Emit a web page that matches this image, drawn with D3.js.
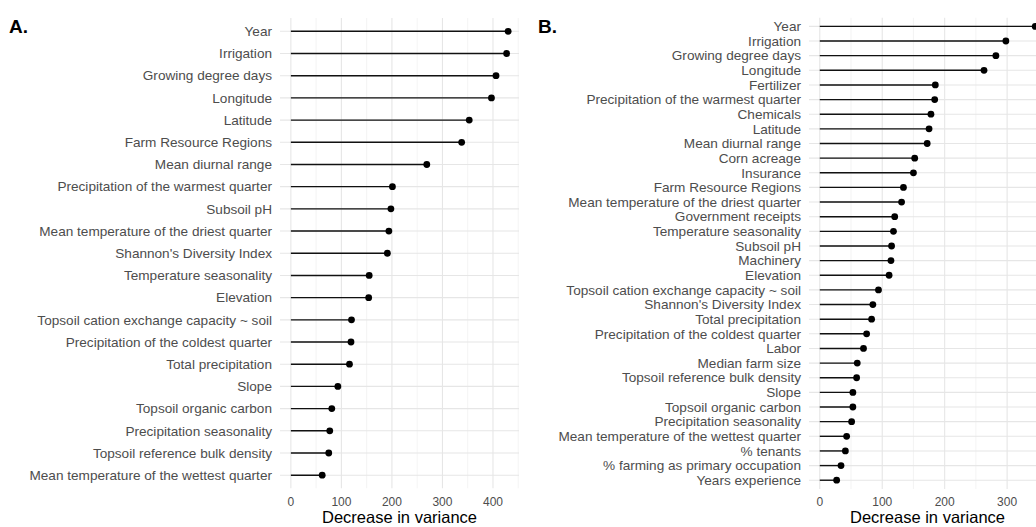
<!DOCTYPE html>
<html>
  <head>
    <meta charset="utf-8">
    <script src="https://d3js.org/d3.v7.min.js"></script>
    <title>Variable importance</title>
    <style>
      body { margin: 0; background: #fff; }
      svg { font-family: "Liberation Sans", Arial, sans-serif; }
    </style>
  </head>
  <body>
    <svg width="1036" height="527"></svg>
    <script>
      // Panel A: yield model variables (top to bottom)
      const varsA = ['Year', 'Irrigation', 'Growing degree days', 'Longitude', 'Latitude',
        'Farm Resource Regions', 'Mean diurnal range', 'Precipitation of the warmest quarter',
        'Subsoil pH', 'Mean temperature of the driest quarter', "Shannon's Diversity Index",
        'Temperature seasonality', 'Elevation', 'Topsoil cation exchange capacity ~ soil',
        'Precipitation of the coldest quarter', 'Total precipitation', 'Slope',
        'Topsoil organic carbon', 'Precipitation seasonality', 'Topsoil reference bulk density',
        'Mean temperature of the wettest quarter'];
      const valsA = [430, 427, 406, 397, 353, 338, 269, 201, 198, 194, 191,
        155, 154, 120, 119, 116, 93, 81, 77, 75, 62];

      // Panel B: model with farm management variables
      const varsB = ['Year', 'Irrigation', 'Growing degree days', 'Longitude', 'Fertilizer',
        'Precipitation of the warmest quarter', 'Chemicals', 'Latitude', 'Mean diurnal range',
        'Corn acreage', 'Insurance', 'Farm Resource Regions', 'Mean temperature of the driest quarter',
        'Government receipts', 'Temperature seasonality', 'Subsoil pH', 'Machinery', 'Elevation',
        'Topsoil cation exchange capacity ~ soil', "Shannon's Diversity Index", 'Total precipitation',
        'Precipitation of the coldest quarter', 'Labor', 'Median farm size',
        'Topsoil reference bulk density', 'Slope', 'Topsoil organic carbon',
        'Precipitation seasonality', 'Mean temperature of the wettest quarter', '% tenants',
        '% farming as primary occupation', 'Years experience'];
      const valsB = [345, 298, 282, 263, 185, 184, 178, 175, 172, 152, 150, 134, 131,
        120, 118, 115, 114, 111, 94, 85, 83, 75, 70, 60, 59, 53, 53, 51, 43, 41, 34, 27];

      const ticksA = [0, 100, 200, 300, 400];
      const ticksB = [0, 100, 200, 300];

      const svg = d3.select('svg');

      function drawPanel(opt) {
        const g = svg.append('g');
        const max = d3.max(opt.values);
        const pad = max * 0.05;
        const x = d3.scaleLinear().domain([-pad, max + pad]).range([opt.left, opt.right]);
        const y = d3.scalePoint().domain(opt.vars).range([opt.top, opt.bottom]).padding(0.6);

        // clip to panel area
        const clipId = 'clip' + opt.tag;
        g.append('clipPath').attr('id', clipId)
          .append('rect')
            .attr('x', opt.left).attr('y', opt.top)
            .attr('width', opt.right - opt.left).attr('height', opt.bottom - opt.top);
        const panel = g.append('g').attr('clip-path', `url(#${clipId})`);

        // minor vertical grid
        const minor = d3.range(50, max + pad, 100);
        panel.selectAll('.minor').data(minor).enter().append('line')
          .attr('x1', d => x(d)).attr('x2', d => x(d))
          .attr('y1', opt.top).attr('y2', opt.bottom)
          .attr('stroke', '#ececec').attr('stroke-width', 0.6);
        // major vertical grid
        panel.selectAll('.major').data(d3.range(0, max + pad, 100)).enter().append('line')
          .attr('x1', d => x(d)).attr('x2', d => x(d))
          .attr('y1', opt.top).attr('y2', opt.bottom)
          .attr('stroke', '#e6e6e6').attr('stroke-width', 1.1);
        // horizontal grid
        panel.selectAll('.hgrid').data(opt.vars).enter().append('line')
          .attr('x1', opt.left).attr('x2', opt.right)
          .attr('y1', d => y(d)).attr('y2', d => y(d))
          .attr('stroke', '#e6e6e6').attr('stroke-width', 1.1);

        // lollipops
        const rows = opt.vars.map((v, i) => ({ name: v, value: opt.values[i] }));
        g.selectAll('.stem').data(rows).enter().append('line')
          .attr('x1', x(0)).attr('x2', d => x(d.value))
          .attr('y1', d => y(d.name)).attr('y2', d => y(d.name))
          .attr('stroke', '#111').attr('stroke-width', 1.4);
        g.selectAll('.dot').data(rows).enter().append('circle')
          .attr('cx', d => x(d.value)).attr('cy', d => y(d.name))
          .attr('r', 3.4).attr('fill', '#000');

        // category labels
        g.selectAll('.lab').data(opt.vars).enter().append('text')
          .attr('x', opt.left - 8).attr('y', d => y(d))
          .attr('dy', '0.35em').attr('text-anchor', 'end')
          .attr('font-size', 13.6).attr('fill', '#4d4d4d')
          .text(d => d);

        // x tick labels
        g.selectAll('.tick').data(opt.ticks).enter().append('text')
          .attr('x', d => x(d)).attr('y', opt.bottom + 17)
          .attr('text-anchor', 'middle')
          .attr('font-size', 12).attr('fill', '#4d4d4d')
          .text(d => d);

        // axis title
        g.append('text')
          .attr('x', (opt.left + opt.right) / 2).attr('y', 522.5)
          .attr('text-anchor', 'middle').attr('font-size', 16.5).attr('fill', '#000')
          .text('Decrease in variance');

        // panel tag
        svg.append('text')
          .attr('x', opt.tagX).attr('y', 33)
          .attr('font-size', 19).attr('font-weight', 'bold').attr('fill', '#000')
          .text(opt.tag + '.');
      }

      drawPanel({ tag: 'A', tagX: 9, vars: varsA, values: valsA, ticks: ticksA,
        left: 280, right: 519, top: 18, bottom: 488.5 });
      drawPanel({ tag: 'B', tagX: 538, vars: varsB, values: valsB, ticks: ticksB,
        left: 809, right: 1046, top: 17.6, bottom: 489 });
    </script>
  </body>
</html>
